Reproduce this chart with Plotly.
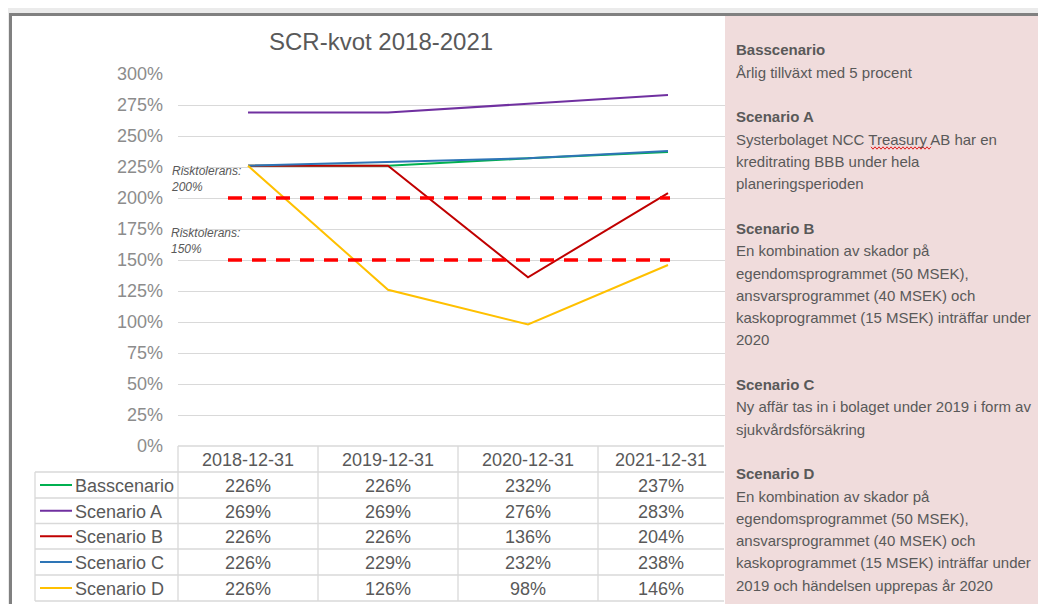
import plotly.graph_objects as go

# Reference canvas is 1046x612; page body margin (8px) is compensated.
REF_W, REF_H = 1046, 612
OX, OY = 8, 8
W, H = REF_W - 2 * OX, REF_H - 2 * OY

# ---------------- data ----------------
dates = ["2018-12-31", "2019-12-31", "2020-12-31", "2021-12-31"]
series_names = ["Basscenario", "Scenario A", "Scenario B", "Scenario C", "Scenario D"]
bas = [226, 226, 232, 237]
scen_a = [269, 269, 276, 283]
scen_b = [226, 226, 136, 204]
scen_c = [226, 229, 232, 238]
scen_d = [226, 126, 98, 146]
series_values = [bas, scen_a, scen_b, scen_c, scen_d]
series_colors = ["#00b050", "#7030a0", "#c00000", "#2e75b6", "#ffc000"]
thresholds = [200, 150]
threshold_labels = ["Risktolerans:<br>200%", "Risktolerans:<br>150%"]
y_ticks = [0, 25, 50, 75, 100, 125, 150, 175, 200, 225, 250, 275, 300]

panel_blocks = [
    ("Basscenario", ["Årlig tillväxt med 5 procent"]),
    ("Scenario A", ["Systerbolaget NCC Treasury AB har en",
                    "kreditrating BBB under hela",
                    "planeringsperioden"]),
    ("Scenario B", ["En kombination av skador på",
                    "egendomsprogrammet (50 MSEK),",
                    "ansvarsprogrammet (40 MSEK) och",
                    "kaskoprogrammet (15 MSEK) inträffar under",
                    "2020"]),
    ("Scenario C", ["Ny affär tas in i bolaget under 2019 i form av",
                    "sjukvårdsförsäkring"]),
    ("Scenario D", ["En kombination av skador på",
                    "egendomsprogrammet (50 MSEK),",
                    "ansvarsprogrammet (40 MSEK) och",
                    "kaskoprogrammet (15 MSEK) inträffar under",
                    "2019 och händelsen upprepas år 2020"]),
]

# ---------------- helpers (reference pixel -> paper) ----------------
def px(x):
    return (x - OX) / W

def py(y):
    return 1 - (y - OY) / H

FONT = "Liberation Sans, Arial, sans-serif"
TXT = "#595959"
GRID = "#d9d9d9"

PLOT_L, PLOT_R = 178, 738
PLOT_T, PLOT_B = 74, 446

fig = go.Figure()

for name, vals, col in zip(series_names, series_values, series_colors):
    fig.add_trace(go.Scatter(x=dates, y=vals, mode="lines", name=name,
                             line=dict(color=col, width=2), showlegend=False,
                             hoverinfo="x+y+name"))

shapes = []
annotations = []

# background frames
shapes.append(dict(type="rect", xref="paper", yref="paper", x0=px(0), x1=px(1046), y0=py(612), y1=py(0),
                   fillcolor="#ffffff", line=dict(width=0), layer="below"))
shapes.append(dict(type="rect", xref="paper", yref="paper", x0=px(5), x1=px(1046), y0=py(612), y1=py(8),
                   fillcolor="#ebebeb", line=dict(width=0), layer="below"))
shapes.append(dict(type="rect", xref="paper", yref="paper", x0=px(12), x1=px(1046), y0=py(609), y1=py(16),
                   fillcolor="#ffffff", line=dict(width=0), layer="below"))

# threshold dashed lines (data y)
for t in thresholds:
    shapes.append(dict(type="line", xref="paper", yref="y", x0=px(228), x1=px(670), y0=t, y1=t,
                       line=dict(color="#ff0000", width=3.5, dash="14px,10px"), layer="above"))

# threshold labels
for t, lab in zip(thresholds, threshold_labels):
    annotations.append(dict(xref="paper", yref="y", x=px(169), y=t, yshift=19,
                            text="<i>" + lab + "</i>", showarrow=False, xanchor="left", yanchor="middle",
                            align="left", font=dict(family=FONT, size=12, color=TXT)))

# pink panel (above plot)
shapes.append(dict(type="rect", xref="paper", yref="paper", x0=px(725), x1=px(1046), y0=py(612), y1=py(16),
                   fillcolor="#f0dcdc", line=dict(width=0), layer="above"))
# dark frame lines
shapes.append(dict(type="line", xref="paper", yref="paper", x0=px(9), x1=px(1046), y0=py(14.5), y1=py(14.5),
                   line=dict(color="#808080", width=3), layer="above"))
shapes.append(dict(type="line", xref="paper", yref="paper", x0=px(10.5), x1=px(10.5), y0=py(612), y1=py(13),
                   line=dict(color="#808080", width=3), layer="above"))

# ---------------- data table ----------------
col_edges = [178, 318, 458, 598, 724]
row_edges = [446, 472, 498, 523.5, 549, 575, 601]
leg_l = 35
for i, yv in enumerate(row_edges):
    x0 = col_edges[0] if i == 0 else leg_l
    shapes.append(dict(type="line", xref="paper", yref="paper", x0=px(x0), x1=px(724), y0=py(yv), y1=py(yv),
                       line=dict(color=GRID, width=1.3), layer="below"))
for xv in col_edges[:-1]:
    shapes.append(dict(type="line", xref="paper", yref="paper", x0=px(xv), x1=px(xv),
                       y0=py(row_edges[0]), y1=py(row_edges[-1]),
                       line=dict(color=GRID, width=1.3), layer="below"))
shapes.append(dict(type="line", xref="paper", yref="paper", x0=px(leg_l), x1=px(leg_l),
                   y0=py(row_edges[1]), y1=py(row_edges[-1]),
                   line=dict(color=GRID, width=1.3), layer="below"))

for j, d in enumerate(dates):
    cx = (col_edges[j] + col_edges[j + 1]) / 2
    annotations.append(dict(xref="paper", yref="paper", x=px(cx), y=py((row_edges[0] + row_edges[1]) / 2 + 1),
                            text=d, showarrow=False, xanchor="center", yanchor="middle",
                            font=dict(family=FONT, size=18, color=TXT)))
for i, (name, vals, col) in enumerate(zip(series_names, series_values, series_colors)):
    cy = (row_edges[i + 1] + row_edges[i + 2]) / 2 + 1
    shapes.append(dict(type="line", xref="paper", yref="paper", x0=px(40), x1=px(72), y0=py(cy - 1), y1=py(cy - 1),
                       line=dict(color=col, width=2), layer="above"))
    annotations.append(dict(xref="paper", yref="paper", x=px(73), y=py(cy), text=name, showarrow=False,
                            xanchor="left", yanchor="middle", font=dict(family=FONT, size=18, color=TXT)))
    for j, v in enumerate(vals):
        cx = (col_edges[j] + col_edges[j + 1]) / 2
        annotations.append(dict(xref="paper", yref="paper", x=px(cx), y=py(cy), text=f"{v}%",
                                showarrow=False, xanchor="center", yanchor="middle",
                                font=dict(family=FONT, size=18, color=TXT)))

# title
annotations.append(dict(xref="paper", yref="paper", x=px(381), y=py(42), text="SCR-kvot 2018-2021",
                        showarrow=False, xanchor="center", yanchor="middle",
                        font=dict(family=FONT, size=24, color=TXT)))

# ---------------- right panel text ----------------
line_h = 22.3
n = 0
for head, lines in panel_blocks:
    annotations.append(dict(xref="paper", yref="paper", x=px(734), y=py(50 + n * line_h),
                            text="<b>" + head + "</b>", showarrow=False, xanchor="left", yanchor="middle",
                            font=dict(family=FONT, size=15, color=TXT)))
    n += 1
    for ln in lines:
        annotations.append(dict(xref="paper", yref="paper", x=px(734), y=py(50 + n * line_h),
                                text=ln, showarrow=False, xanchor="left", yanchor="middle",
                                font=dict(family=FONT, size=15, color=TXT)))
        n += 1
    n += 1

# spell-check style wavy underline under "Treasury"
wx0, wx1, wy = 871, 931, 148
pts = []
k = 0
xx = wx0
while xx <= wx1:
    pts.append((px(xx), py(wy + (1.2 if k % 2 else -1.2))))
    xx += 2
    k += 1
path = "M " + " L ".join(f"{a:.5f},{b:.5f}" for a, b in pts)
shapes.append(dict(type="path", xref="paper", yref="paper", path=path,
                   line=dict(color="#e02020", width=1), layer="above"))

fig.update_layout(
    width=W, height=H,
    margin=dict(l=0, r=0, t=0, b=0, pad=0, autoexpand=False),
    paper_bgcolor="#ffffff",
    plot_bgcolor="rgba(0,0,0,0)",
    shapes=shapes,
    annotations=annotations,
    showlegend=False,
    xaxis=dict(domain=[px(PLOT_L), px(PLOT_R)], type="category", range=[-0.5, 3.5], automargin=False,
               showticklabels=False, showgrid=False, zeroline=False, showline=False, fixedrange=True),
    yaxis=dict(domain=[py(PLOT_B), py(PLOT_T)], range=[0, 300], tickvals=y_ticks, automargin=False,
               ticktext=[f"{v}%" for v in y_ticks], ticks="", ticklabelstandoff=14,
               showgrid=True, gridcolor=GRID, gridwidth=1.3, zeroline=False, showline=False,
               tickfont=dict(family=FONT, size=18, color="#8c8c8c"), fixedrange=True),
)

fig.write_html("out.html")
